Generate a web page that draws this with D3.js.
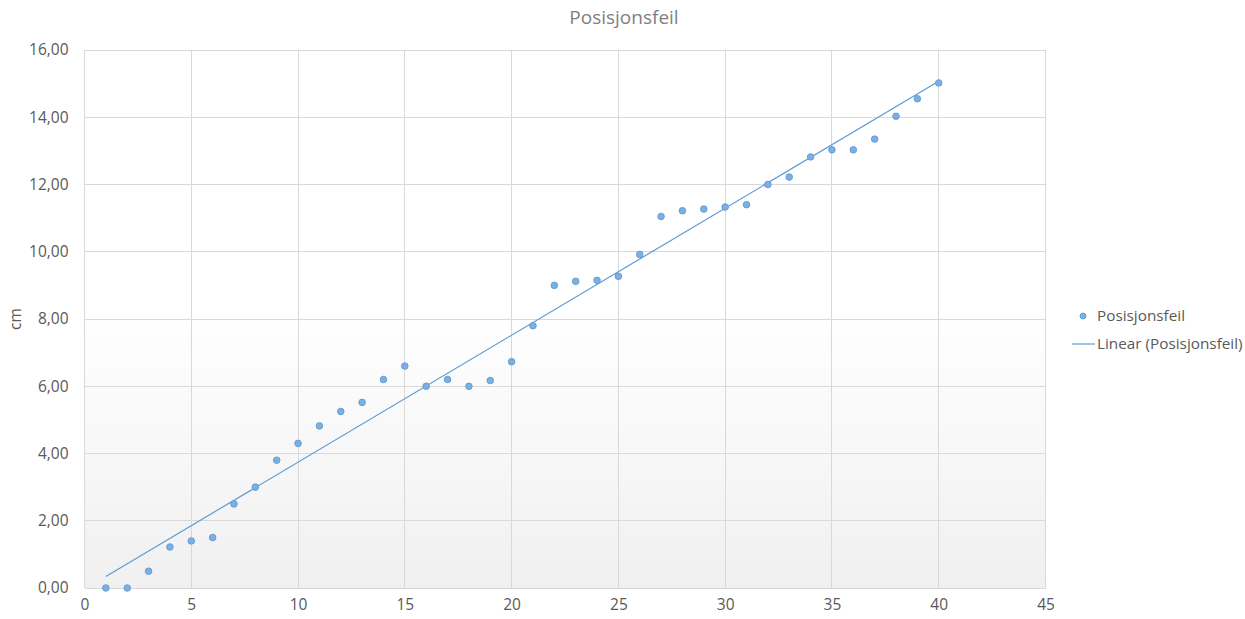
<!DOCTYPE html>
<html>
<head>
<meta charset="utf-8">
<script src="https://cdn.jsdelivr.net/npm/d3@7"></script>
<style>
  html, body { margin: 0; padding: 0; background: #fff; }
  svg { display: block; font-family: "Open Sans", "Liberation Sans", Arial, sans-serif; }
</style>
</head>
<body>
<svg id="chart" width="1245" height="619"></svg>
<script>
// Measurement number (1..40) and position error in cm
const measurements = d3.range(1, 41);
const positionError = [
  0.00, 0.00, 0.50, 1.22, 1.40, 1.50, 2.50, 3.00, 3.80, 4.30,
  4.82, 5.25, 5.52, 6.20, 6.60, 6.00, 6.20, 6.00, 6.17, 6.73,
  7.80, 9.00, 9.12, 9.15, 9.27, 9.92, 11.05, 11.22, 11.27, 11.33,
  11.40, 12.00, 12.22, 12.82, 13.03, 13.03, 13.35, 14.03, 14.55, 15.02
];
const xTicks = [0, 5, 10, 15, 20, 25, 30, 35, 40, 45];
const yTicks = [0, 2, 4, 6, 8, 10, 12, 14, 16];
const seriesName = "Posisjonsfeil";
const trendName = "Linear (Posisjonsfeil)";
const titleText = "Posisjonsfeil";
const yTitle = "cm";

const FONT = "'Open Sans', 'Liberation Sans', Arial, sans-serif";
const svg = d3.select("#chart");
const plotLeft = 84.5, plotRight = 1045.5, plotTop = 50, plotBottom = 588;

const x = d3.scaleLinear().domain([0, 45]).range([plotLeft, plotRight]);
const y = d3.scaleLinear().domain([0, 16]).range([plotBottom, plotTop]);

// plot area background: white fading to light gray at the bottom
const defs = svg.append("defs");
const grad = defs.append("linearGradient").attr("id", "plotBg")
  .attr("x1", 0).attr("y1", 0).attr("x2", 0).attr("y2", 1);
grad.append("stop").attr("offset", "0%").attr("stop-color", "#ffffff");
grad.append("stop").attr("offset", "48%").attr("stop-color", "#ffffff");
grad.append("stop").attr("offset", "100%").attr("stop-color", "#f0f0f0");

svg.append("rect")
  .attr("x", plotLeft).attr("y", plotTop)
  .attr("width", plotRight - plotLeft).attr("height", plotBottom - plotTop)
  .attr("fill", "url(#plotBg)");

// gridlines
const grid = svg.append("g").attr("stroke", "#d9d9d9").attr("stroke-width", 1).attr("shape-rendering", "crispEdges");
grid.selectAll(".h").data(yTicks).join("line").attr("class", "h")
  .attr("x1", plotLeft).attr("x2", plotRight)
  .attr("y1", d => y(d)).attr("y2", d => y(d));
grid.selectAll(".v").data(xTicks).join("line").attr("class", "v")
  .attr("y1", plotTop).attr("y2", plotBottom)
  .attr("x1", d => x(d)).attr("x2", d => x(d));

// axes (labels only, Excel-style)
const fmt = d => d.toFixed(2).replace(".", ",");
const yAxis = svg.append("g")
  .attr("transform", `translate(${plotLeft},0)`)
  .call(d3.axisLeft(y).tickValues(yTicks).tickFormat(fmt).tickSize(0).tickPadding(16));
const xAxis = svg.append("g")
  .attr("transform", `translate(0,${plotBottom})`)
  .call(d3.axisBottom(x).tickValues(xTicks).tickFormat(d3.format("d")).tickSize(0).tickPadding(11));
[yAxis, xAxis].forEach(a => {
  a.select(".domain").remove();
  a.selectAll("text").attr("fill", "#595959").style("font-size", "15.5px")
    .style("font-family", FONT);
});

// least-squares trend line
const n = measurements.length;
const mx = d3.mean(measurements), my = d3.mean(positionError);
let sxy = 0, sxx = 0;
for (let i = 0; i < n; i++) {
  sxy += (measurements[i] - mx) * (positionError[i] - my);
  sxx += (measurements[i] - mx) ** 2;
}
const slope = sxy / sxx, intercept = my - slope * mx;
const x0 = d3.min(measurements), x1 = d3.max(measurements);
svg.append("line")
  .attr("x1", x(x0)).attr("y1", y(intercept + slope * x0))
  .attr("x2", x(x1)).attr("y2", y(intercept + slope * x1))
  .attr("stroke", "#5b9bd5").attr("stroke-width", 1.2);

// data points
svg.append("g").selectAll("circle")
  .data(measurements.map((m, i) => [m, positionError[i]]))
  .join("circle")
  .attr("cx", d => x(d[0])).attr("cy", d => y(d[1]))
  .attr("r", 3.3)
  .attr("fill", "#7eaee2")
  .attr("stroke", "#5b9bd5").attr("stroke-width", 0.9);

// title
svg.append("text")
  .attr("x", 624).attr("y", 24)
  .attr("text-anchor", "middle")
  .attr("fill", "#7f7f7f")
  .style("font-size", "19px")
  .style("font-family", FONT)
  .text(titleText);

// y axis title
svg.append("text")
  .attr("transform", "translate(21,319) rotate(-90)")
  .attr("text-anchor", "middle")
  .attr("fill", "#595959")
  .style("font-size", "15.5px")
  .style("font-family", FONT)
  .text(yTitle);

// legend
const lg = svg.append("g").style("font-family", FONT);
lg.append("circle").attr("cx", 1083).attr("cy", 316).attr("r", 3)
  .attr("fill", "#7eaee2").attr("stroke", "#5b9bd5").attr("stroke-width", 0.9);
lg.append("text").attr("x", 1097).attr("y", 321)
  .attr("fill", "#595959").style("font-size", "15.3px").text(seriesName);
lg.append("line").attr("x1", 1072).attr("x2", 1095).attr("y1", 344).attr("y2", 344)
  .attr("stroke", "#5b9bd5").attr("stroke-width", 1.2);
lg.append("text").attr("x", 1097).attr("y", 349)
  .attr("fill", "#595959").style("font-size", "15.3px").text(trendName);
</script>
</body>
</html>
